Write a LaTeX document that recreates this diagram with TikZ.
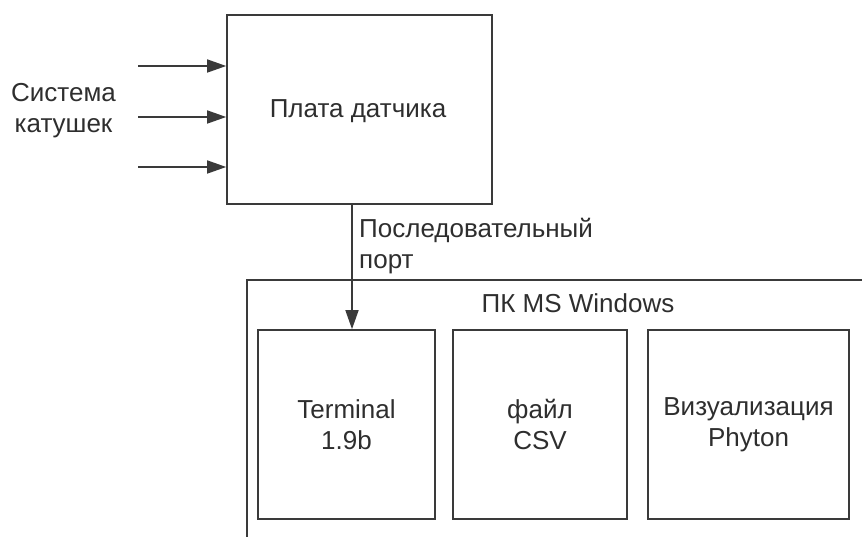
\documentclass[tikz,border=0pt]{standalone}
\usepackage{fontspec}
\setmainfont{Liberation Sans}
\usetikzlibrary{arrows.meta}
\definecolor{linegray}{HTML}{3A3A3A}
\definecolor{textgray}{HTML}{2E2E2E}
\begin{document}
\begin{tikzpicture}[x=1pt,y=-1pt,
  every node/.style={font=\fontsize{26}{31}\selectfont, text=textgray},
  block/.style={draw=linegray, line width=1.6pt, inner sep=0pt, align=center},
  label/.style={inner sep=0pt, align=center},
  conn/.style={draw=linegray, line width=1.5pt, -{Triangle[length=19pt,width=13pt]}}
]
  \useasboundingbox (0,0) rectangle (862,537);
  \clip (0,0) rectangle (862,537);

  % sensor board
  \node[block, minimum width=265pt, minimum height=189pt] (board) at (359.5,109.5) {};
  \node[label] (boardtext) at (358,111) {Плата датчика};

  % coil inputs
  \node[label, anchor=north] (coils) at (63.5,83) {Система\\катушек};
  \coordinate (in1) at (138,66);
  \coordinate (in2) at (138,117);
  \coordinate (in3) at (138,167);
  \draw[conn] (in1) -- (in1 -| board.west);
  \draw[conn] (in2) -- (in2 -| board.west);
  \draw[conn] (in3) -- (in3 -| board.west);

  % PC frame (runs past the right and bottom edges)
  \node[block, anchor=north west, minimum width=700pt, minimum height=400pt] (pc) at (246,279) {};
  \node[label] (pctitle) at (578,303) {ПК MS Windows};

  % software blocks
  \node[block, minimum width=177pt, minimum height=189pt] (term) at (346.5,424.5) {Terminal\\1.9b};
  \node[block, minimum width=174pt, minimum height=189pt] (csv) at (540,424.5) {файл\\CSV};
  \node[block, minimum width=201pt, minimum height=189pt] (viz) at (748.5,424.5) {Визуализация\\Phyton};

  % serial link
  \coordinate (portx) at (352,0);
  \draw[conn] (board.south -| portx) -- (term.north -| portx);
  \node[label, align=left, anchor=north west] (port) at (359,218) {Последовательный\\порт};
\end{tikzpicture}
\end{document}
